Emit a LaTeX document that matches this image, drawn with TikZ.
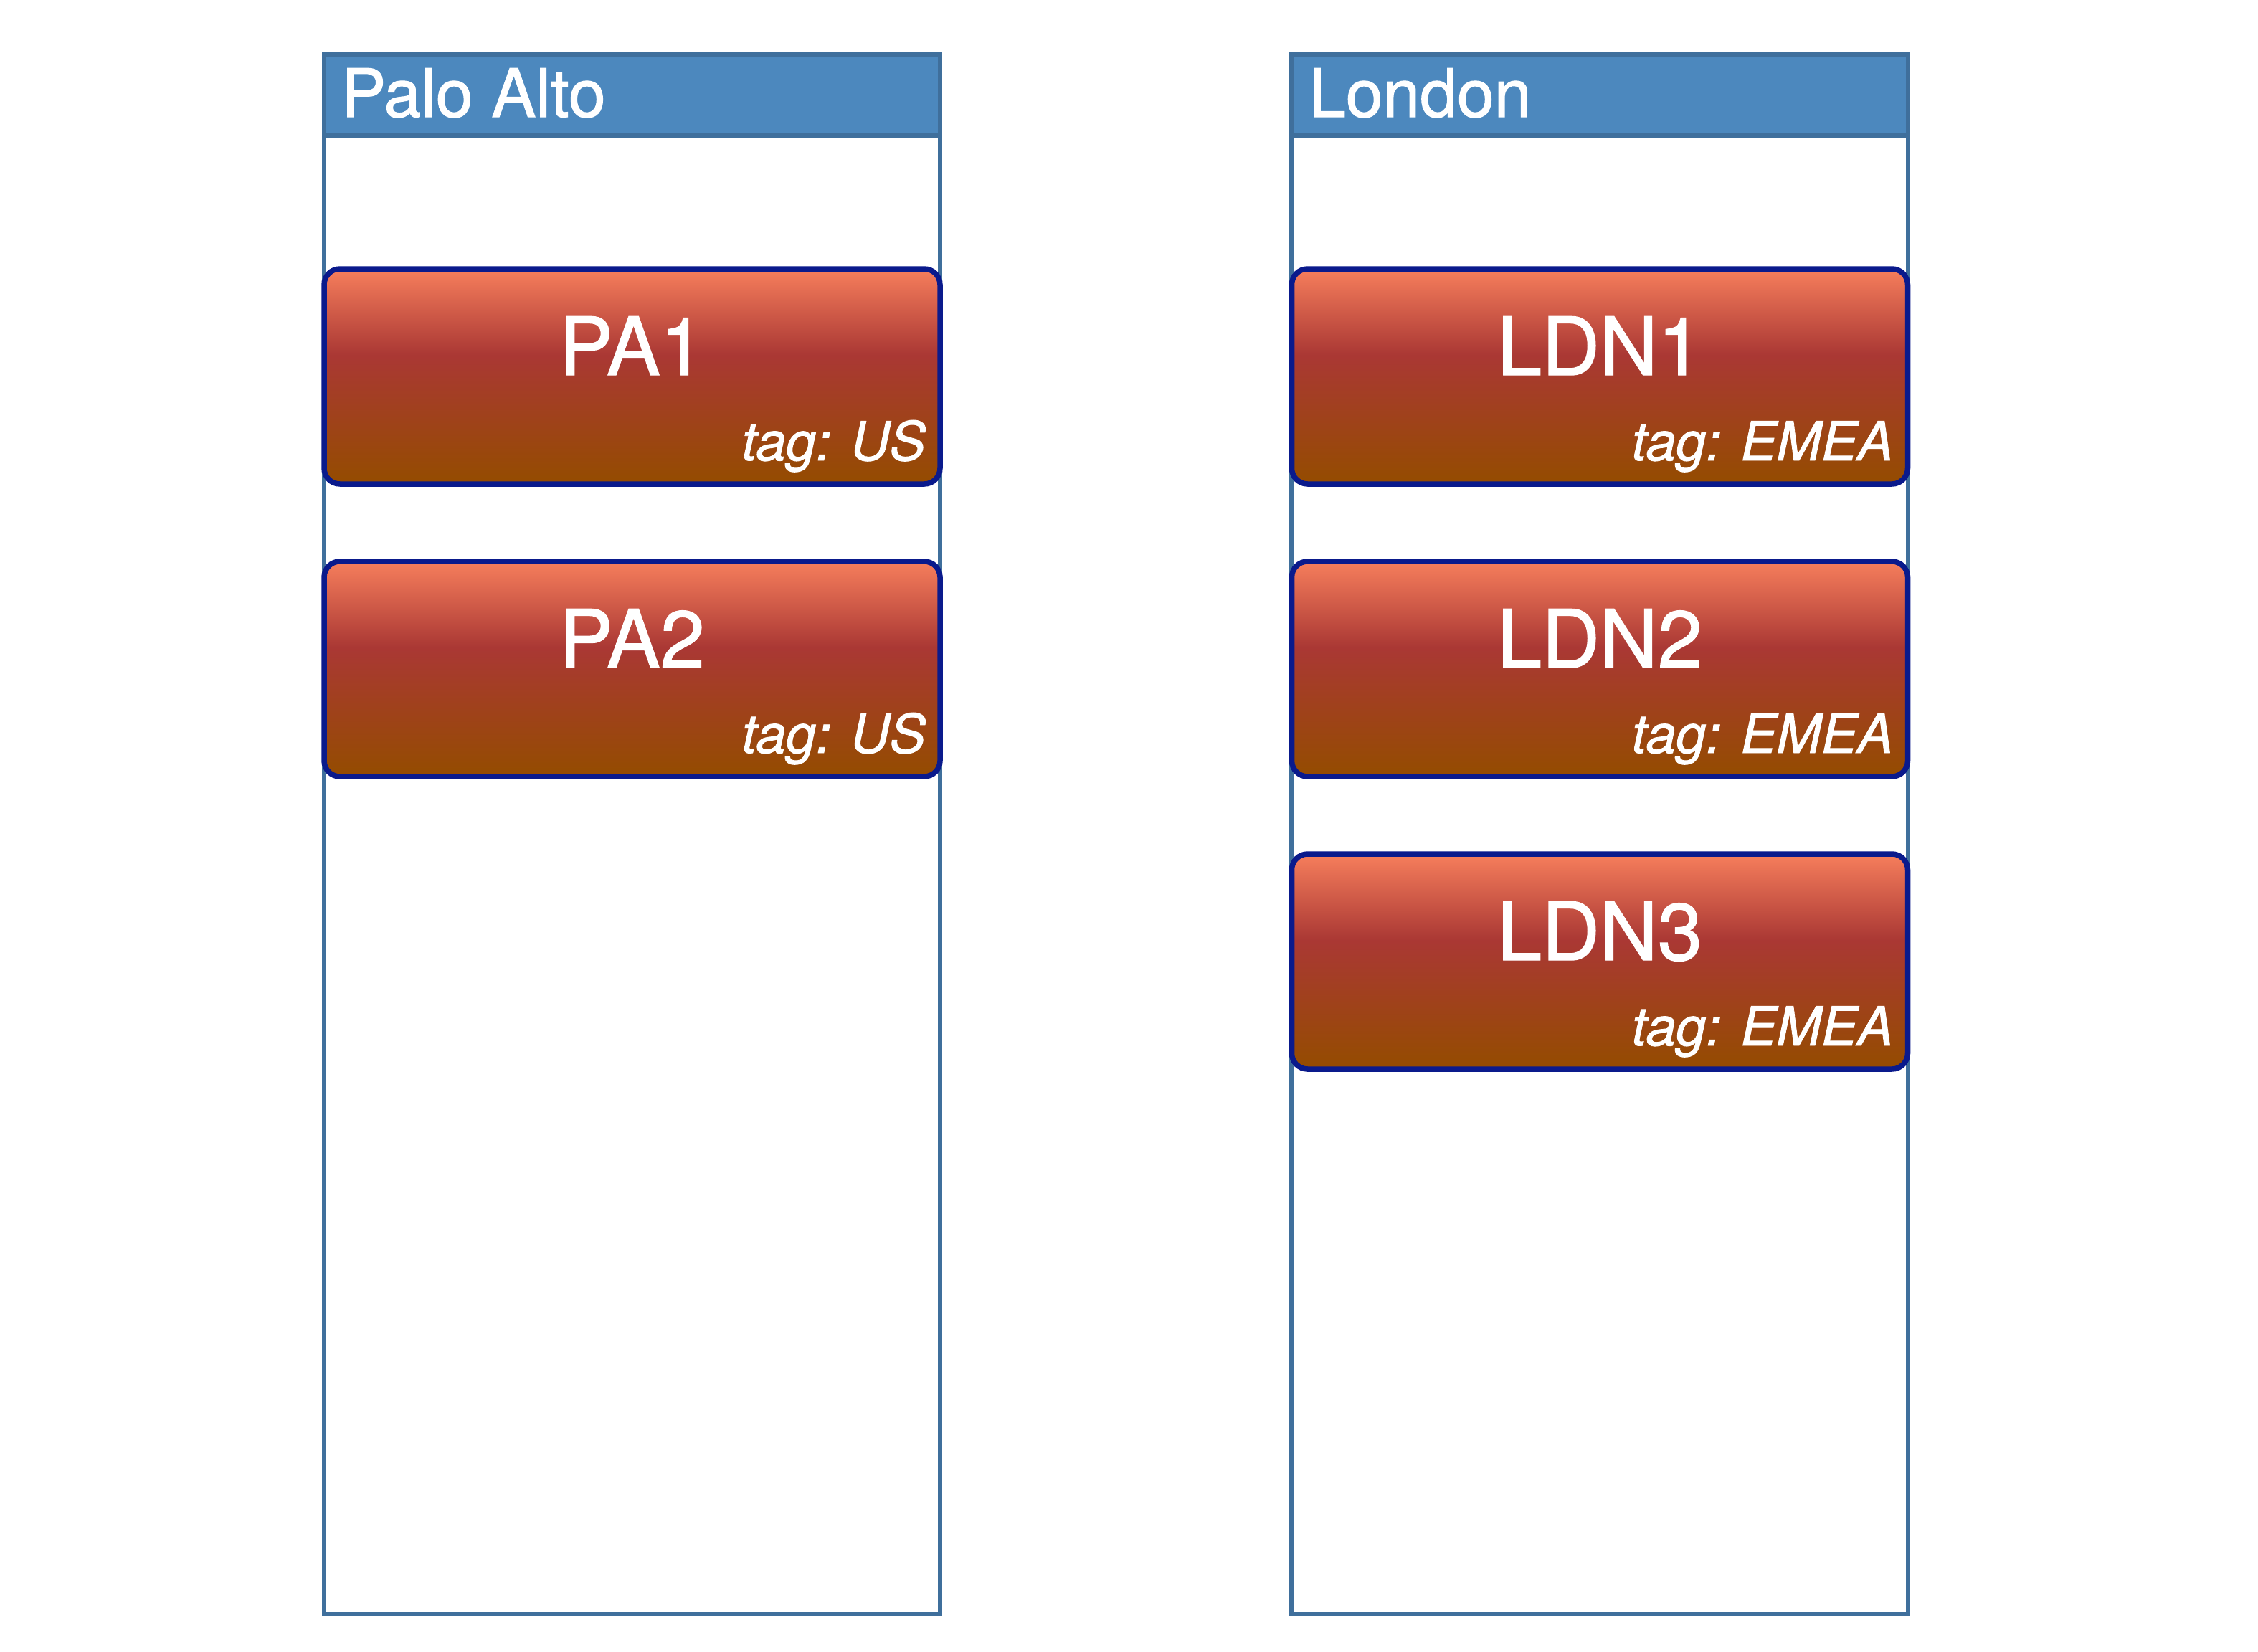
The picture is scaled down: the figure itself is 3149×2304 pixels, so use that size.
\documentclass[tikz,border=0pt]{standalone}
\usepackage{fontspec}
\setmainfont{TeX Gyre Heros}[FakeBold=1.2]
\usetikzlibrary{positioning}

\definecolor{headfill}{RGB}{76,136,190}
\definecolor{siteline}{RGB}{63,111,156}
\definecolor{srvline}{RGB}{10,26,140}
\definecolor{srvtop}{RGB}{246,126,92}
\definecolor{srvmid}{RGB}{170,56,52}
\definecolor{srvbot}{RGB}{148,76,0}
\pgfdeclareverticalshading{srvshade}{100bp}{color(0bp)=(srvbot); color(25bp)=(srvbot); color(55bp)=(srvmid); color(75bp)=(srvtop); color(100bp)=(srvtop)}

\begin{document}
\begin{tikzpicture}[x=1pt, y=-1pt,
  site/.style={draw=siteline, line width=6.5pt},
  sitehead/.style={site, fill=headfill},
  sitename/.style={anchor=base west, inner sep=0pt, text=white, font=\fontsize{93}{110}\selectfont},
  srvbox/.style={draw=srvline, line width=7.5pt, rounded corners=22pt, shade, shading=srvshade,
    minimum width=859pt, minimum height=300pt, inner sep=0pt, outer sep=0pt},
  srvname/.style={anchor=base, inner sep=0pt, text=white, font=\fontsize{112}{130}\selectfont},
  srvtag/.style={anchor=base east, inner sep=0pt, text=white, font=\fontsize{75}{90}\selectfont\itshape}]

  %% ════ 站点列（外框 + 标题栏）════
  \draw[site] (452,76) rectangle (1311,2251);
  \draw[sitehead] (452,76) rectangle (1311,189);
  \node[sitename] (paname) at (476,163) {Palo Alto};

  \draw[site] (1801,76) rectangle (2661,2251);
  \draw[sitehead] (1801,76) rectangle (2661,189);
  \node[sitename] (ldnname) at (1825,163) {London};

  %% ════ 服务器框 ════
  \node[srvbox] (pa1) at (881.5,525) {};
  \node[srvname] (pa1name) at ([yshift=-148pt]pa1.north) {PA1};
  \node[srvtag] (pa1tag) at ([xshift=-20pt,yshift=33pt]pa1.south east) {tag: US};

  \node[srvbox] (pa2) at (881.5,933) {};
  \node[srvname] (pa2name) at ([yshift=-148pt]pa2.north) {PA2};
  \node[srvtag] (pa2tag) at ([xshift=-20pt,yshift=33pt]pa2.south east) {tag: US};

  \node[srvbox] (ldn1) at (2231,525) {};
  \node[srvname] (ldn1name) at ([yshift=-148pt]ldn1.north) {LDN1};
  \node[srvtag] (ldn1tag) at ([xshift=-20pt,yshift=33pt]ldn1.south east) {tag: EMEA};

  \node[srvbox] (ldn2) at (2231,933) {};
  \node[srvname] (ldn2name) at ([yshift=-148pt]ldn2.north) {LDN2};
  \node[srvtag] (ldn2tag) at ([xshift=-20pt,yshift=33pt]ldn2.south east) {tag: EMEA};

  \node[srvbox] (ldn3) at (2231,1341) {};
  \node[srvname] (ldn3name) at ([yshift=-148pt]ldn3.north) {LDN3};
  \node[srvtag] (ldn3tag) at ([xshift=-20pt,yshift=33pt]ldn3.south east) {tag: EMEA};

  % 钉死画布
  \pgfresetboundingbox
  \path[use as bounding box] (0,0) rectangle (3149,2304);
\end{tikzpicture}
\end{document}
